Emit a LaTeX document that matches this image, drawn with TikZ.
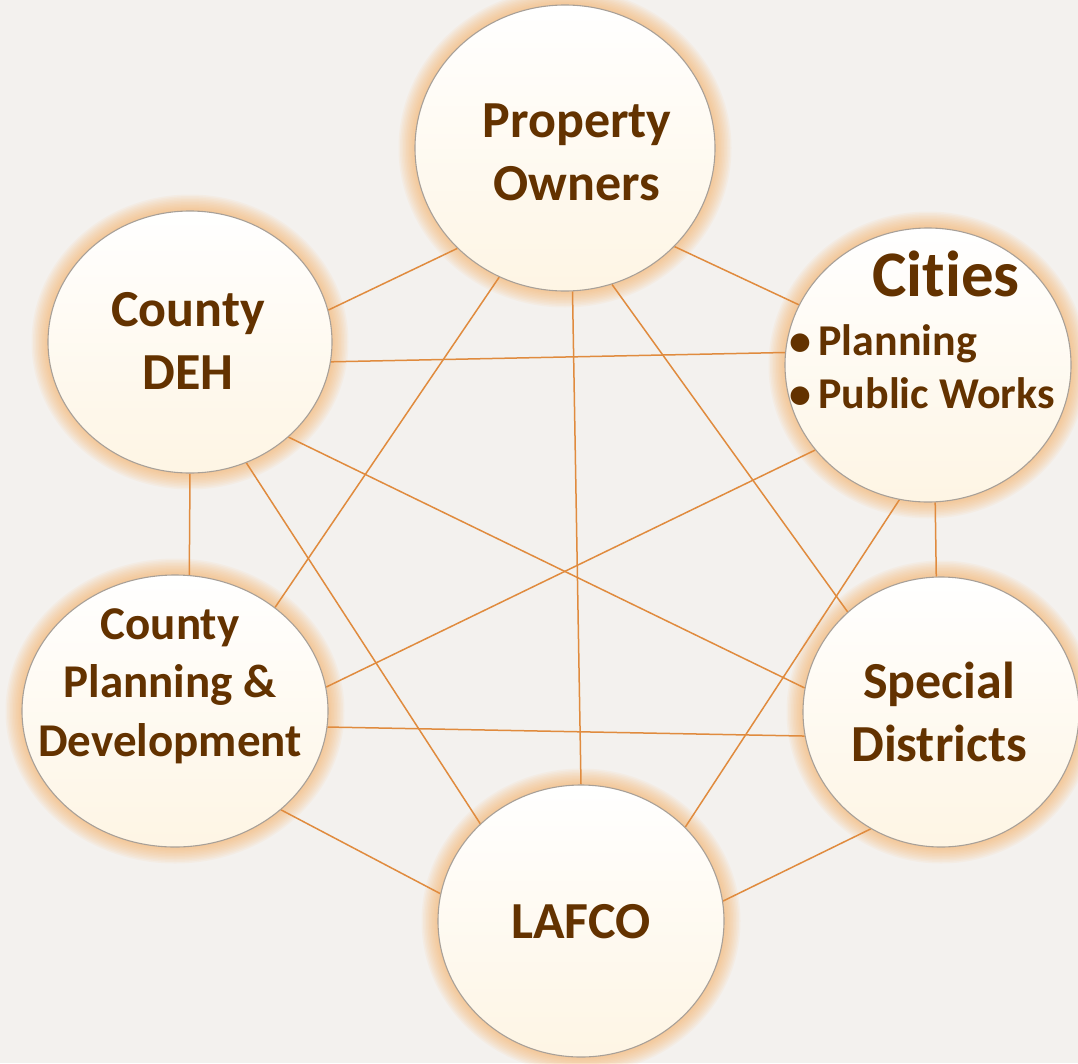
\documentclass[tikz,border=0pt]{standalone}
\usepackage{fontspec}
\setmainfont{Carlito}[RawFeature=-liga]
\usetikzlibrary{shapes.geometric}
\pgfdeclarelayer{bglayer}
\pgfdeclarelayer{glowlayer}
\pgfdeclarelayer{linelayer}
\pgfsetlayers{bglayer,glowlayer,linelayer,main}
\definecolor{bgc}{HTML}{F3F1EE}
\definecolor{linkc}{HTML}{E08B3E}
\definecolor{glowc}{HTML}{F5B060}
\definecolor{creamc}{HTML}{FEF5E4}
\definecolor{rimc}{HTML}{A8A098}
\definecolor{textc}{HTML}{633200}
\tikzset{
  bubble/.style={ellipse, inner sep=0pt, draw=rimc, line width=1.1pt,
    top color=white, middle color=creamc, bottom color=creamc},
  link/.style={draw=linkc, line width=1.5pt},
  lbl/.style={text=textc, align=center, inner sep=0pt,
    font=\bfseries\fontsize{52}{63}\selectfont},
}
\newcommand\bubbleat[5]{%
  \node[bubble, minimum width={#4*2pt}, minimum height={#5*2pt}] (#1) at (#2,#3) {};
  \begin{pgfonlayer}{glowlayer}
    \foreach \k in {1,...,11}{%
      \fill[glowc, fill opacity=0.07] (#2,#3) ellipse [x radius={#4pt+1.5pt*\k}, y radius={#5pt+1.5pt*\k}];
    }
  \end{pgfonlayer}
}
\begin{document}
\begin{tikzpicture}[x=1pt,y=-1pt]
\useasboundingbox (0,0) rectangle (1078,1063);
\begin{pgfonlayer}{bglayer}
  \fill[bgc] (0,0) rectangle (1078,1063);
\end{pgfonlayer}
\bubbleat{po}{565}{148}{150}{143}
\bubbleat{ci}{928}{365}{143}{137}
\bubbleat{deh}{190}{342}{142}{131}
\bubbleat{cpd}{175}{711}{153}{136}
\bubbleat{sd}{941}{712}{138}{135}
\bubbleat{la}{581}{921}{143}{136}

\node[lbl] (pot) at (577,152.5) {Property\\Owners};
\node[lbl, font=\bfseries\fontsize{65}{70}\selectfont] (cit) at (946,274) {Cities};
\node[lbl, align=left, anchor=west, font=\bfseries\fontsize{44}{53}\selectfont] (cil) at (789,367) {•\,Planning\\•\,Public Works};
\node[lbl] (deht) at (188,341) {County\\DEH};
\node[lbl, font=\bfseries\fontsize{47}{58.5}\selectfont] (cpdt) at (170,686) {County\\Planning \&\\Development};
\node[lbl] (sdt) at (939,712) {Special\\Districts};
\node[lbl] (lat) at (581,921.5) {LAFCO};

\begin{pgfonlayer}{linelayer}
  \draw[link] (deh.13.4) -- (po.223.6);
  \draw[link] (po.-42) -- (ci.155);
  \draw[link] (deh.-8) -- (ci.175);
  \draw[link] (po.243.4) -- (cpd.46);
  \draw[link] (po.273.8) -- (la.90);
  \draw[link] (po.289.3) -- (sd.133);
  \draw[link] (deh.-44) -- (sd.170);
  \draw[link] (deh.295) -- (la.136.5);
  \draw[link] (deh.270) -- (cpd.84.4);
  \draw[link] (ci.217.6) -- (cpd.9.6);
  \draw[link] (ci.258.5) -- (la.42.7);
  \draw[link] (ci.273) -- (sd.92);
  \draw[link] (cpd.-6) -- (sd.190);
  \draw[link] (cpd.-43) -- (la.169);
  \draw[link] (sd.239.4) -- (la.8);
\end{pgfonlayer}
\end{tikzpicture}
\end{document}
